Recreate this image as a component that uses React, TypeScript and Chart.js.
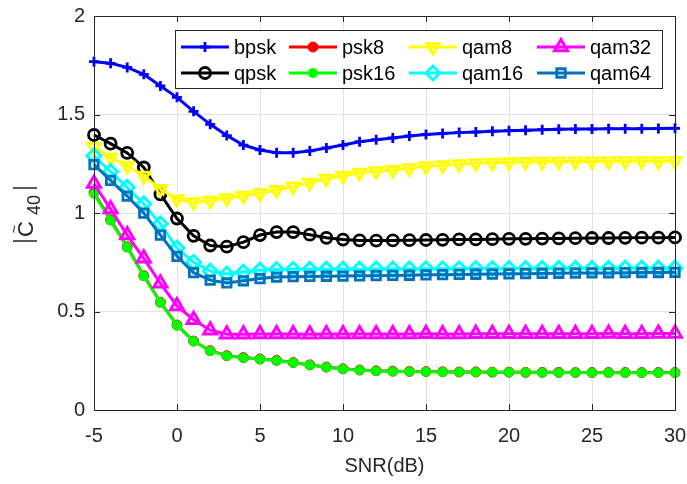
import React, { useEffect, useRef } from 'react';
import { Chart, registerables } from 'chart.js';
import { drawPoint } from 'chart.js/helpers';

Chart.register(...registerables);

const snr = [-5, -4, -3, -2, -1, 0, 1, 2, 3, 4, 5, 6, 7, 8, 9, 10, 11, 12, 13, 14, 15, 16, 17, 18, 19, 20, 21, 22, 23, 24, 25, 26, 27, 28, 29, 30];

const bpsk = [1.768, 1.760, 1.739, 1.704, 1.645, 1.587, 1.516, 1.450, 1.393, 1.345, 1.320, 1.306, 1.306, 1.315, 1.330, 1.345, 1.362, 1.372, 1.381, 1.391, 1.399, 1.404, 1.408, 1.411, 1.415, 1.418, 1.420, 1.423, 1.425, 1.426, 1.426, 1.428, 1.428, 1.428, 1.429, 1.430];
const qpsk = [1.396, 1.352, 1.305, 1.231, 1.095, 0.972, 0.884, 0.835, 0.829, 0.852, 0.888, 0.903, 0.903, 0.890, 0.874, 0.865, 0.861, 0.860, 0.861, 0.862, 0.863, 0.864, 0.866, 0.866, 0.867, 0.869, 0.869, 0.870, 0.871, 0.872, 0.873, 0.873, 0.874, 0.875, 0.875, 0.876];
const psk8 = [1.103, 0.965, 0.828, 0.682, 0.547, 0.431, 0.350, 0.301, 0.276, 0.266, 0.259, 0.252, 0.241, 0.229, 0.218, 0.209, 0.203, 0.199, 0.197, 0.196, 0.195, 0.194, 0.193, 0.193, 0.192, 0.192, 0.191, 0.191, 0.191, 0.190, 0.190, 0.190, 0.190, 0.190, 0.190, 0.190];
const psk16 = [1.098, 0.962, 0.826, 0.680, 0.546, 0.430, 0.349, 0.300, 0.275, 0.265, 0.258, 0.251, 0.240, 0.228, 0.217, 0.208, 0.202, 0.198, 0.196, 0.195, 0.194, 0.193, 0.193, 0.192, 0.192, 0.191, 0.191, 0.190, 0.190, 0.190, 0.189, 0.189, 0.189, 0.189, 0.189, 0.189];
const qam8 = [1.335, 1.282, 1.240, 1.189, 1.122, 1.070, 1.054, 1.062, 1.075, 1.088, 1.100, 1.117, 1.134, 1.154, 1.174, 1.189, 1.204, 1.212, 1.218, 1.227, 1.237, 1.243, 1.248, 1.252, 1.255, 1.257, 1.259, 1.260, 1.261, 1.262, 1.262, 1.263, 1.263, 1.263, 1.263, 1.264];
const qam16 = [1.290, 1.210, 1.130, 1.046, 0.945, 0.822, 0.750, 0.705, 0.690, 0.700, 0.710, 0.713, 0.714, 0.714, 0.715, 0.715, 0.715, 0.716, 0.716, 0.716, 0.717, 0.717, 0.717, 0.718, 0.718, 0.718, 0.718, 0.719, 0.719, 0.719, 0.719, 0.719, 0.720, 0.720, 0.720, 0.720];
const qam32 = [1.150, 1.020, 0.888, 0.770, 0.643, 0.528, 0.458, 0.405, 0.385, 0.384, 0.386, 0.386, 0.386, 0.385, 0.386, 0.386, 0.386, 0.386, 0.386, 0.386, 0.387, 0.386, 0.386, 0.387, 0.387, 0.387, 0.387, 0.387, 0.387, 0.387, 0.387, 0.388, 0.387, 0.387, 0.388, 0.388];
const qam64 = [1.246, 1.166, 1.086, 0.999, 0.888, 0.780, 0.697, 0.659, 0.645, 0.656, 0.667, 0.675, 0.677, 0.678, 0.679, 0.680, 0.681, 0.682, 0.683, 0.684, 0.686, 0.687, 0.688, 0.689, 0.690, 0.691, 0.692, 0.693, 0.694, 0.695, 0.696, 0.696, 0.697, 0.698, 0.698, 0.699];

const xTicks = [-5, 0, 5, 10, 15, 20, 25, 30];
const yTicks = [0, 0.5, 1, 1.5, 2];

const FONT = '"Liberation Sans", Arial, Helvetica, sans-serif';
const AXIS = '#262626';

type Series = {
  label: string;
  values: number[];
  color: string;
  pointStyle: string;
  radius: number;
  rotation?: number;
  filled?: boolean;
  pbw: number;
};

const series: Series[] = [
  { label: 'bpsk', values: bpsk, color: '#0000ff', pointStyle: 'cross', radius: 5, pbw: 2.8 },
  { label: 'qpsk', values: qpsk, color: '#000000', pointStyle: 'circle', radius: 5.5, pbw: 2.8 },
  { label: 'psk8', values: psk8, color: '#ff0000', pointStyle: 'circle', radius: 5, filled: true, pbw: 1 },
  { label: 'psk16', values: psk16, color: '#00ff00', pointStyle: 'star', radius: 5, pbw: 3.2 },
  { label: 'qam8', values: qam8, color: '#ffff00', pointStyle: 'triangle', radius: 7, rotation: 180, pbw: 3 },
  { label: 'qam16', values: qam16, color: '#00ffff', pointStyle: 'rectRot', radius: 7, pbw: 3 },
  { label: 'qam32', values: qam32, color: '#ff00ff', pointStyle: 'triangle', radius: 7.5, pbw: 3 },
  { label: 'qam64', values: qam64, color: '#0072bd', pointStyle: 'rect', radius: 6, pbw: 2.8 },
];

const legendOrder = ['bpsk', 'qpsk', 'psk8', 'psk16', 'qam8', 'qam16', 'qam32', 'qam64'];

const overlayPlugin = {
  id: 'overlay',
  afterDraw(chart: any) {
    const ctx: CanvasRenderingContext2D = chart.ctx;
    const { left, right, top, bottom } = chart.chartArea;
    const xs = chart.scales.x;
    const ys = chart.scales.y;
    ctx.save();
    ctx.strokeStyle = AXIS;
    ctx.lineWidth = 1;
    ctx.beginPath();
    ctx.moveTo(left + 0.5, bottom + 0.5);
    ctx.lineTo(left + 0.5, top + 0.5);
    ctx.lineTo(right + 0.5, top + 0.5);
    ctx.lineTo(right + 0.5, bottom + 0.5);
    ctx.lineTo(left + 0.5, bottom + 0.5);
    ctx.stroke();
    const tl = 6;
    ctx.beginPath();
    xTicks.forEach((t) => {
      const px = Math.round(xs.getPixelForValue(t)) + 0.5;
      ctx.moveTo(px, bottom);
      ctx.lineTo(px, bottom - tl);
      ctx.moveTo(px, top);
      ctx.lineTo(px, top + tl);
    });
    yTicks.forEach((t) => {
      const py = Math.round(ys.getPixelForValue(t)) + 0.5;
      ctx.moveTo(left, py);
      ctx.lineTo(left + tl, py);
      ctx.moveTo(right, py);
      ctx.lineTo(right - tl, py);
    });
    ctx.stroke();

    // legend
    const bx = 175, by = 30, bw = 487, bh = 58;
    ctx.fillStyle = '#ffffff';
    ctx.fillRect(bx, by, bw, bh);
    ctx.strokeStyle = AXIS;
    ctx.lineWidth = 1;
    ctx.strokeRect(bx + 0.5, by + 0.5, bw, bh);
    const colX = [181, 289, 409, 537];
    const rowY = [47, 73];
    ctx.font = `20px ${FONT}`;
    ctx.textBaseline = 'middle';
    ctx.textAlign = 'left';
    legendOrder.forEach((name, i) => {
      const s = series.find((q) => q.label === name)!;
      const cx = colX[Math.floor(i / 2)];
      const cy = rowY[i % 2];
      ctx.strokeStyle = s.color;
      ctx.lineWidth = 3;
      ctx.beginPath();
      ctx.moveTo(cx, cy);
      ctx.lineTo(cx + 48, cy);
      ctx.stroke();
      ctx.fillStyle = s.filled ? s.color : 'rgba(0,0,0,0)';
      ctx.strokeStyle = s.color;
      ctx.lineWidth = s.pbw;
      drawPoint(ctx, { pointStyle: s.pointStyle as any, radius: s.radius, rotation: s.rotation || 0, borderWidth: s.pbw } as any, cx + 24, cy);
      ctx.fillStyle = '#000000';
      ctx.fillText(s.label, cx + 53, cy + 1);
    });

    // x title
    ctx.fillStyle = AXIS;
    ctx.font = `20px ${FONT}`;
    ctx.textAlign = 'center';
    ctx.textBaseline = 'middle';
    ctx.fillText('SNR(dB)', (left + right) / 2, 466);

    // y title |C~40|
    ctx.save();
    ctx.translate(25, 214);
    ctx.rotate(-Math.PI / 2);
    ctx.strokeStyle = AXIS;
    ctx.lineWidth = 1.3;
    ctx.beginPath();
    ctx.moveTo(-27, -12);
    ctx.lineTo(-27, 12);
    ctx.moveTo(26, -12);
    ctx.lineTo(26, 12);
    ctx.stroke();
    ctx.fillStyle = AXIS;
    ctx.textAlign = 'center';
    ctx.textBaseline = 'middle';
    ctx.font = `22px ${FONT}`;
    ctx.fillText('C', -15, 2);
    ctx.font = `15px ${FONT}`;
    ctx.fillText('~', -15, -10);
    ctx.font = `18px ${FONT}`;
    ctx.fillText('40', 9, 10);
    ctx.restore();

    ctx.restore();
  },
};

export default function App() {
  const ref = useRef<HTMLCanvasElement | null>(null);
  useEffect(() => {
    if (!ref.current) return;
    Chart.defaults.font.family = FONT;
    const datasets = series.map((s, i) => ({
      label: s.label,
      data: snr.map((x, j) => ({ x, y: s.values[j] })),
      borderColor: s.color,
      backgroundColor: s.filled ? s.color : 'rgba(0,0,0,0)',
      borderWidth: 3,
      pointStyle: s.pointStyle,
      pointRadius: s.radius,
      pointRotation: s.rotation || 0,
      pointBorderWidth: s.pbw,
      pointBorderColor: s.color,
      pointBackgroundColor: s.filled ? s.color : 'rgba(0,0,0,0)',
      tension: 0,
      clip: false as any,
      order: series.length - i,
    }));
    const chart = new Chart(ref.current, {
      type: 'line',
      data: { datasets: datasets as any },
      options: {
        animation: false,
        responsive: false,
        events: [],
        layout: { padding: { top: 16, right: 12, left: 0, bottom: 0 } },
        plugins: { legend: { display: false }, tooltip: { enabled: false } },
        scales: {
          x: {
            type: 'linear',
            min: -5,
            max: 30,
            afterFit: (scale: any) => { scale.height = 74; scale.paddingLeft = 0; scale.paddingRight = 0; },
            afterBuildTicks: (scale: any) => { scale.ticks = xTicks.map((v) => ({ value: v })); },
            ticks: { color: AXIS, font: { size: 20, family: FONT }, padding: 14, maxRotation: 0, autoSkip: false, callback: (v: any) => String(v) },
            grid: { color: '#e3e3e3', lineWidth: 1, drawTicks: false },
            border: { display: true, color: AXIS, width: 1 },
          },
          y: {
            type: 'linear',
            min: 0,
            max: 2,
            afterFit: (scale: any) => { scale.width = 94; scale.paddingTop = 0; scale.paddingBottom = 0; },
            afterBuildTicks: (scale: any) => { scale.ticks = yTicks.map((v) => ({ value: v })); },
            ticks: { color: AXIS, font: { size: 20, family: FONT }, padding: 9, autoSkip: false, callback: (v: any) => String(v) },
            grid: { color: '#e3e3e3', lineWidth: 1, drawTicks: false },
            border: { display: true, color: AXIS, width: 1 },
          },
        },
      },
      plugins: [overlayPlugin],
    });
    return () => chart.destroy();
  }, []);
  return (
    <div style={{ position: 'fixed', left: 0, top: 0, width: 687, height: 484, background: '#ffffff' }}>
      <canvas ref={ref} width={687} height={484} style={{ width: 687, height: 484, display: 'block' }} />
    </div>
  );
}
